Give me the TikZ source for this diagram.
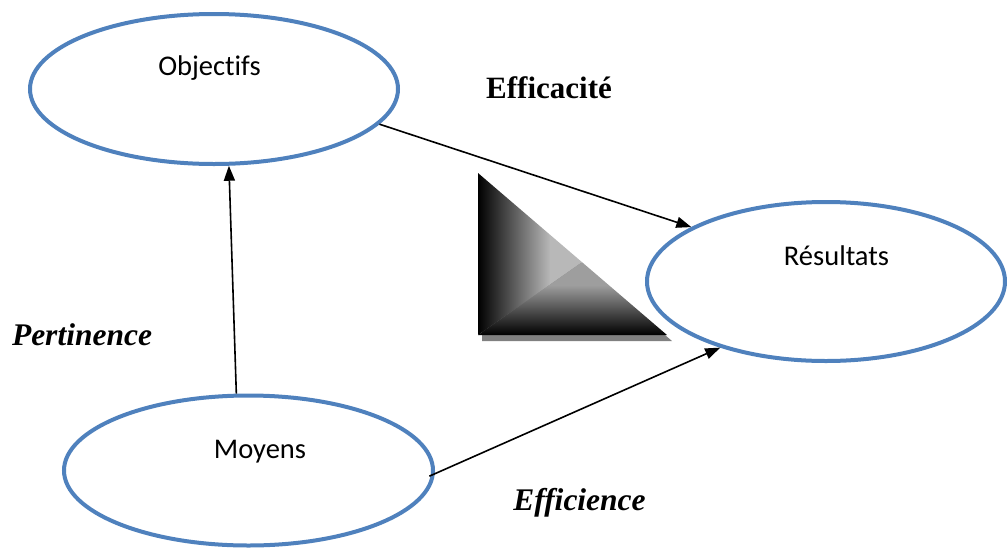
\documentclass[tikz,border=0pt]{standalone}
\usepackage{fontspec}
\setmainfont{Liberation Serif}
\newfontfamily\carlito[Ligatures={NoCommon,NoDiscretionary,NoContextual}]{Carlito}
\usetikzlibrary{shapes.geometric,arrows.meta,calc}
\definecolor{ellblue}{HTML}{4F81BD}
\tikzset{
  ovalbox/.style={ellipse,draw=ellblue,line width=4pt,fill=white,inner sep=0pt},
  ovaltext/.style={anchor=base,inner sep=0pt,font=\carlito\fontsize{28.5}{34}\selectfont},
  conn/.style={line width=1.6pt,-{Triangle[length=15pt,width=11pt]}},
  lbl/.style={anchor=base,inner sep=0pt,font=\bfseries\itshape\fontsize{31.5}{36}\selectfont},
}
\begin{document}
\begin{tikzpicture}[x=1pt,y=-1pt]
\useasboundingbox (0,0) rectangle (1007,547);
% ellipses
\node[ovalbox,minimum width=368pt,minimum height=150pt] (obj) at (214,89) {};
\node[ovalbox,minimum width=358pt,minimum height=159pt] (res) at (826,281.5) {};
\node[ovalbox,minimum width=369pt,minimum height=150pt] (moy) at (248.5,470.5) {};
% texts
\node[ovaltext] (tobj) at (209.5,75) {Objectifs};
\node[ovaltext] (tres) at (836.5,265) {Résultats};
\node[ovaltext] (tmoy) at (260,458) {Moyens};
\node[anchor=base,inner sep=0pt,font=\bfseries\fontsize{31}{36}\selectfont] (eff) at (549,98) {Efficacité};
\node[lbl] (per) at (82,345) {Pertinence};
\node[lbl] (efc) at (579.5,510) {Efficience};
% triangle with shadow and bevel shading
\fill[black!50] (482,178) -- (482,341) -- (672,341) -- cycle;
\begin{scope}
  \clip (478,173) -- (478,335) -- (667,335) -- cycle;
  \begin{scope}
    \clip (478,335) -- (690,186.6) -- (690,100) -- (470,100) -- (470,335) -- cycle;
    \shade[left color=black,right color=black!28] (478,100) rectangle (550,345);
    \fill[black!28] (550,100) rectangle (690,345);
  \end{scope}
  \begin{scope}
    \clip (478,335) -- (690,186.6) -- (690,345) -- (470,345) -- cycle;
    \shade[top color=black!38,bottom color=black] (470,285) rectangle (690,335);
    \fill[black!38] (470,150) rectangle (690,285);
  \end{scope}
\end{scope}
% connectors
\draw[conn] (obj.-12) -- (res.158.9);
\draw[conn] (moy.99.7) -- (obj.-79);
\draw[conn,shorten <=-6pt] (moy.-1.5) -- (res.-148.8);
\end{tikzpicture}
\end{document}
